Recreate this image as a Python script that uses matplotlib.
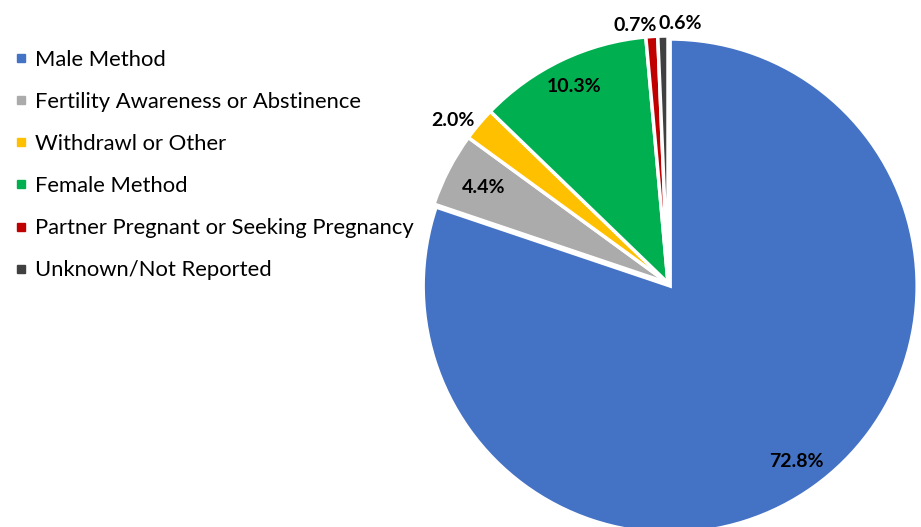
import matplotlib
matplotlib.use('Agg')
import matplotlib.pyplot as plt
from matplotlib.lines import Line2D
import numpy as np

plt.rcParams['font.family'] = ['Lato', 'DejaVu Sans']

# reasons for not using a method, share of respondents (%)
categories = ['Male Method', 'Fertility Awareness or Abstinence', 'Withdrawl or Other',
              'Female Method', 'Partner Pregnant or Seeking Pregnancy', 'Unknown/Not Reported']
shares = [72.8, 4.4, 2.0, 10.3, 0.7, 0.6]
colors = ['#4472C4', '#ABABAB', '#FFC000', '#00B050', '#C00000', '#404040']

# label placement: radial distance and small angle nudge (deg) per slice
label_dist = [0.89, 0.84, 1.09, 0.88, 1.05, 1.05]
label_nudge = [0, 0, 3.0, 0, 3.5, -4.0]

W, H = 921, 527
fig = plt.figure(figsize=(W / 100, H / 100), dpi=100)

cx, cy, r = 668, 283, 247
ax = fig.add_axes([(cx - r) / W, (H - cy - r) / H, 2 * r / W, 2 * r / H])
explode = [0.015, 0, 0, 0, 0, 0]
wedges, _ = ax.pie(shares, colors=colors, startangle=90, counterclock=False,
                   explode=explode, radius=1,
                   wedgeprops=dict(edgecolor='white', linewidth=2.5))
ax.set_xlim(-1, 1)
ax.set_ylim(-1, 1)
ax.set_aspect('equal')
ax.axis('off')

for w, val, d, nud in zip(wedges, shares, label_dist, label_nudge):
    ang = np.deg2rad((w.theta1 + w.theta2) / 2 + nud)
    ax.text(d * np.cos(ang), d * np.sin(ang), f'{val:.1f}%', ha='center', va='center',
            fontsize=14, fontweight='bold', color='black', clip_on=False)

handles = [Line2D([0], [0], marker='s', linestyle='none', markersize=6,
                  markerfacecolor=c, markeredgecolor=c) for c in colors]
fig.legend(handles, categories, loc='upper left', bbox_to_anchor=(0.0, 0.935),
           frameon=False, fontsize=15.8, handlelength=0.5, handletextpad=0.4,
           labelspacing=1.01, borderaxespad=0.3)

fig.savefig('out.png', dpi=100)
